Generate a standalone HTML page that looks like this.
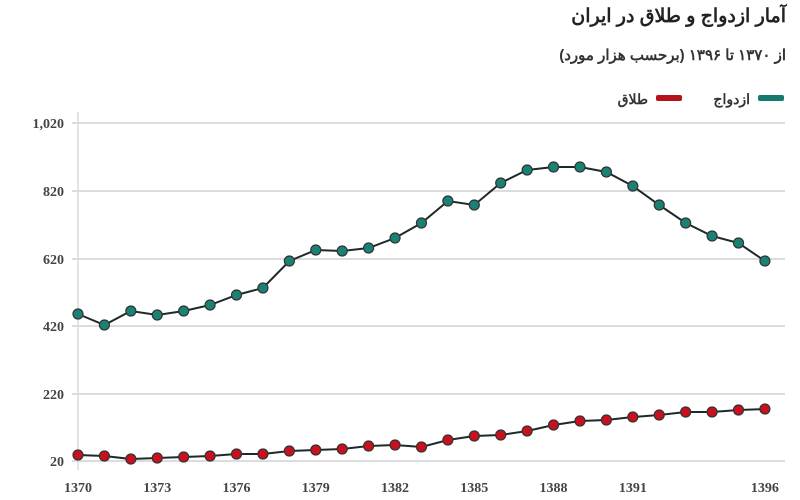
<!DOCTYPE html>
<html><head><meta charset="utf-8"><style>
body{margin:0;background:#fff;width:800px;height:500px;overflow:hidden}
svg{display:block}
</style></head><body>
<svg id="s" width="800" height="500" xmlns="http://www.w3.org/2000/svg" font-family="'Liberation Serif', serif">
<text x="786" y="22" text-anchor="start" direction="rtl" font-family="'Liberation Sans','Noto Sans CJK SC',sans-serif" font-size="19" font-weight="bold" fill="#222">آمار ازدواج و طلاق در ایران</text>
<text x="786" y="60" text-anchor="start" direction="rtl" font-family="'Liberation Sans','Noto Sans CJK SC',sans-serif" font-size="15" font-weight="bold" fill="#333">از ۱۳۷۰ تا ۱۳۹۶ (برحسب هزار مورد)</text>
<rect x="758" y="95" width="26" height="6" rx="2" fill="#157a6e"/>
<text x="750" y="104" text-anchor="start" direction="rtl" font-family="'Liberation Sans','Noto Sans CJK SC',sans-serif" font-size="14" font-weight="bold" fill="#333">ازدواج</text>
<rect x="656" y="95" width="26" height="6" rx="2" fill="#b5121b"/>
<text x="648" y="104" text-anchor="start" direction="rtl" font-family="'Liberation Sans','Noto Sans CJK SC',sans-serif" font-size="14" font-weight="bold" fill="#333">طلاق</text>
<g id="grid" stroke="#dcdcdc" stroke-width="2"></g>
<line x1="78" y1="112" x2="78" y2="470" stroke="#dcdcdc" stroke-width="1.5"/>
<g id="lab" font-size="14" fill="#444" font-weight="bold"></g>
<g id="ser"></g>
</svg>
<script>
var ns="http://www.w3.org/2000/svg";
function el(t,a,p,txt){var e=document.createElementNS(ns,t);for(var k in a)e.setAttribute(k,a[k]);if(txt)e.textContent=txt;document.getElementById(p).appendChild(e);return e;}
var gy=[123,191,259,326,394,461],gl=["1,020","820","620","420","220","20"];
for(var i=0;i<6;i++){el("line",{x1:72,x2:785,y1:gy[i],y2:gy[i]},"grid");el("text",{x:64,y:gy[i]+5,"text-anchor":"end"},"lab",gl[i]);}
var X=function(i){return 78+i*26.42;};
[0,3,6,9,12,15,18,21,26].forEach(function(i){el("text",{x:X(i),y:492,"text-anchor":"middle"},"lab",String(1370+i));});
var t=[314,325,311,315,311,305,295,288,261,250,251,248,238,223,201,205,183,170,167,167,172,186,205,223,236,243,261];
var r=[455,456,459,458,457,456,454,454,451,450,449,446,445,447,440,436,435,431,425,421,420,417,415,412,412,410,409];
function draw(d,c){var p=d.map(function(y,i){return X(i).toFixed(1)+","+y;}).join(" ");
el("polyline",{points:p,fill:"none",stroke:"#1e2a2a","stroke-width":2},"ser");
d.forEach(function(y,i){el("circle",{cx:X(i),cy:y,r:5,fill:c,stroke:"#333","stroke-width":1.2},"ser");});}
draw(t,"#1a8275");draw(r,"#c8101e");
</script>
</body></html>
